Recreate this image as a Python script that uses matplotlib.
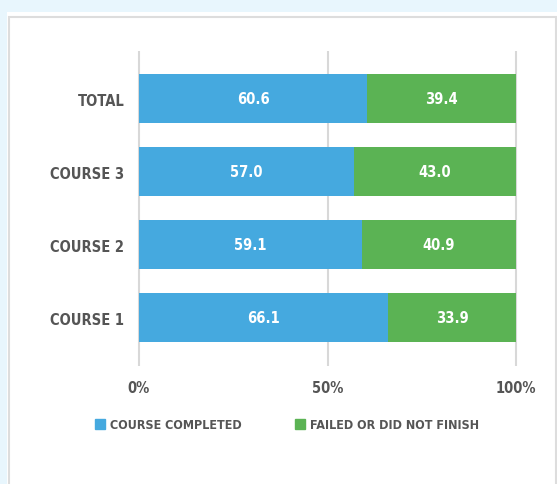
import matplotlib
matplotlib.use('Agg')
import matplotlib.pyplot as plt
from matplotlib.patches import Rectangle

categories = ['COURSE 1', 'COURSE 2', 'COURSE 3', 'TOTAL']
completed = [66.1, 59.1, 57.0, 60.6]
not_completed = [33.9, 40.9, 43.0, 39.4]
series_names = ['COURSE COMPLETED', 'FAILED OR DID NOT FINISH']
xticks = [0, 50, 100]
xtick_labels = ['0%', '50%', '100%']

blue = '#45a9df'
green = '#5bb354'
gray = '#555555'

plt.rcParams['font.family'] = ['DejaVu Sans']
plt.rcParams['font.stretch'] = 'condensed'

fig = plt.figure(figsize=(5.57, 4.85), dpi=100)
fig.patch.set_facecolor('#e8f6fd')
fig.patches.append(Rectangle((7 / 557, 0), 1, 1 - 13 / 485, transform=fig.transFigure,
                             facecolor='white', edgecolor='none', zorder=-2))
fig.patches.append(Rectangle((9 / 557, -0.01), 547 / 557, 1 - 18 / 485 + 0.01,
                             transform=fig.transFigure, facecolor='none',
                             edgecolor='#dddddd', linewidth=1.5, zorder=-1))

ax = fig.add_axes([137 / 557, 1 - 367 / 485, 381 / 557, 315 / 485])
ax.set_zorder(5)
ax.set_facecolor('none')

ypos = list(range(len(categories)))
ax.barh(ypos, completed, height=0.67, color=blue, zorder=2)
ax.barh(ypos, not_completed, left=completed, height=0.67, color=green, zorder=2)

for y, a, b in zip(ypos, completed, not_completed):
    ax.text(a / 2, y, f'{a:.1f}', color='white', ha='center', va='center',
            fontsize=10.5, fontweight='bold', zorder=3)
    ax.text(a + b / 2, y, f'{b:.1f}', color='white', ha='center', va='center',
            fontsize=10.5, fontweight='bold', zorder=3)

ax.set_xlim(-0.5, 100.5)
ax.set_ylim(-0.657, 3.653)
ax.set_xticks(xticks)
ax.set_xticklabels(xtick_labels, color=gray, fontsize=10.5, fontweight='bold')
ax.set_yticks(ypos)
ax.set_yticklabels(categories, color=gray, fontsize=10.5, fontweight='bold')
ax.tick_params(length=0, pad=9)
ax.tick_params(axis='x', pad=10)
ax.grid(axis='x', color='#d8d8d8', linewidth=1.5, zorder=1)
ax.set_axisbelow(True)
for s in ax.spines.values():
    s.set_visible(False)

handles = [Rectangle((0, 0), 1, 1, color=blue), Rectangle((0, 0), 1, 1, color=green)]
leg = fig.legend(handles, series_names, loc='center', bbox_to_anchor=(287 / 557, 1 - 426 / 485),
                 ncol=2, frameon=False, handlelength=0.8, handleheight=0.8,
                 columnspacing=4.2, handletextpad=0.4,
                 prop={'weight': 'bold', 'size': 9, 'stretch': 'condensed'})
for t in leg.get_texts():
    t.set_color(gray)

fig.savefig('out.png', dpi=100)
